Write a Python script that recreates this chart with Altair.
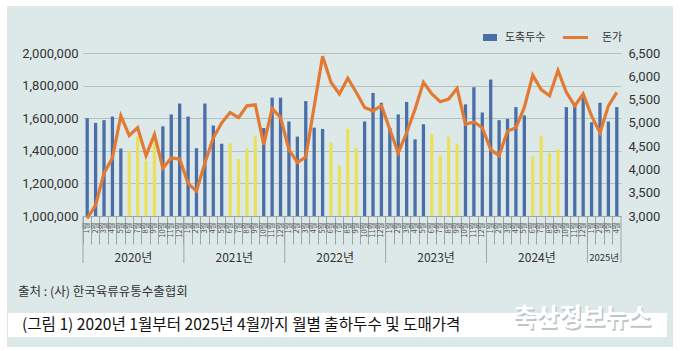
import altair as alt
import pandas as pd

# ---------------- data ----------------
years = ["2020", "2021", "2022", "2023", "2024", "2025"]

heads_2020 = [1600000, 1571000, 1588000, 1610000, 1414000, 1398000, 1489000, 1338000, 1468000, 1550000, 1623000, 1690000]
heads_2021 = [1610000, 1416000, 1690000, 1555000, 1443000, 1447000, 1350000, 1414000, 1493000, 1540000, 1726000, 1726000]
heads_2022 = [1580000, 1487000, 1705000, 1542000, 1534000, 1450000, 1310000, 1536000, 1420000, 1580000, 1755000, 1695000]
heads_2023 = [1540000, 1623000, 1700000, 1470000, 1563000, 1503000, 1370000, 1487000, 1443000, 1685000, 1790000, 1635000]
heads_2024 = [1837000, 1588000, 1596000, 1668000, 1617000, 1365000, 1493000, 1388000, 1410000, 1668000, 1685000, 1726000]
heads_2025 = [1575000, 1695000, 1580000, 1668000]

price_2020 = [2950, 3232, 3919, 4245, 5149, 4730, 4896, 4295, 4751, 4027, 4245, 4223]
price_2021 = [3702, 3535, 4136, 4679, 5000, 5221, 5113, 5366, 5388, 4534, 5308, 5113]
price_2022 = [4425, 4150, 4266, 5350, 6430, 5873, 5620, 5960, 5656, 5330, 5258, 5370]
price_2023 = [4860, 4353, 4787, 5294, 5873, 5620, 5453, 5511, 5742, 4968, 5019, 4896]
price_2024 = [4425, 4295, 4823, 4896, 5330, 6025, 5713, 5583, 6126, 5656, 5366, 5620]
price_2025 = [5149, 4787, 5366, 5656]

summer_months = [6, 7, 8, 9]

left_ticks = [1000000, 1200000, 1400000, 1600000, 1800000, 2000000]
right_ticks = [3000, 3500, 4000, 4500, 5000, 5500, 6000, 6500]

year_labels = ["2020년", "2021년", "2022년", "2023년", "2024년"]
year_centers = ["2020-07", "2021-07", "2022-07", "2023-07", "2024-07"]
year_starts = ["2020-01", "2021-01", "2022-01", "2023-01", "2024-01", "2025-01"]

source_text = "출처 : (사) 한국육류유통수출협회"
caption_text = "(그림 1) 2020년 1월부터 2025년 4월까지 월별 출하두수 및 도매가격"
watermark_text = "축산정보뉴스"

# ---------------- table ----------------
heads_all = [heads_2020, heads_2021, heads_2022, heads_2023, heads_2024, heads_2025]
price_all = [price_2020, price_2021, price_2022, price_2023, price_2024, price_2025]
rows = []
for y, hs, ps in zip(years, heads_all, price_all):
    for i, (h, p) in enumerate(zip(hs, ps)):
        m = i + 1
        rows.append({
            "key": f"{y}-{m:02d}",
            "mlabel": f"{m}월",
            "heads": h,
            "price": p,
            "grp": "summer" if m in summer_months else "normal",
        })
df = pd.DataFrame(rows)
order = list(df["key"])

W, H = 538, 163
BG = "#dde9e9"
GRID = "#b3c0c0"
TXT = "#333333"
BLUE = "#4a6ea8"
YELLOW = "#e9e15b"
ORANGE = "#e27a34"
KR = "Noto Sans CJK KR"
AXC = "#9aa7a7"

xscale = alt.Scale(type="band", domain=order, paddingInner=0, paddingOuter=0)

bars = alt.Chart(df).mark_bar(size=3.3).encode(
    x=alt.X("key:N", sort=order, scale=xscale,
            axis=alt.Axis(title=None, labels=False, ticks=True, tickSize=28,
                          tickColor=AXC, tickWidth=1, bandPosition=0,
                          domainColor=AXC, domainWidth=1)),
    y=alt.Y("heads:Q",
            scale=alt.Scale(domain=[1000000, 2000000], zero=False, nice=False),
            axis=alt.Axis(title=None, values=left_ticks, format=",d", grid=True,
                          gridColor=GRID, gridWidth=1.2, domain=False, ticks=False,
                          labelFont="Roboto", labelFontSize=13, labelColor=TXT,
                          labelPadding=5)),
    y2=alt.datum(1000000),
    color=alt.Color("grp:N", scale=alt.Scale(domain=["normal", "summer"],
                                             range=[BLUE, YELLOW]), legend=None),
)

line = alt.Chart(df).mark_line(color=ORANGE, strokeWidth=3.2).encode(
    x=alt.X("key:N", sort=order, scale=xscale),
    y=alt.Y("price:Q",
            scale=alt.Scale(domain=[3000, 6500], zero=False, nice=False),
            axis=alt.Axis(title=None, orient="right", values=right_ticks, format=",d",
                          grid=False, domain=False, ticks=False,
                          labelFont="Roboto", labelFontSize=13, labelColor=TXT,
                          labelPadding=7)),
)

month_text = alt.Chart(df).mark_text(angle=270, align="right", baseline="middle",
                                     font=KR, fontSize=7.5, color="#555555").encode(
    x=alt.X("key:N", sort=order, scale=xscale),
    y=alt.value(H + 6.5),
    text="mlabel:N",
)

ydf = pd.DataFrame({"key": year_starts})
year_rules = alt.Chart(ydf).mark_rule(color=AXC, strokeWidth=1).encode(
    x=alt.X("key:N", sort=order, scale=xscale, bandPosition=0),
    y=alt.value(H), y2=alt.value(H + 47),
)
end_rule = alt.Chart(pd.DataFrame({"key": [order[-1]]})).mark_rule(
    color=AXC, strokeWidth=1).encode(
    x=alt.X("key:N", sort=order, scale=xscale, bandPosition=1),
    y=alt.value(H), y2=alt.value(H + 47),
)

ltdf = pd.DataFrame({"key": year_centers, "label": year_labels})
year_text = alt.Chart(ltdf).mark_text(font=KR, fontSize=12, color=TXT,
                                      baseline="middle").encode(
    x=alt.X("key:N", sort=order, scale=xscale, bandPosition=0),
    y=alt.value(H + 42),
    text="label:N",
)
y25 = alt.Chart(pd.DataFrame({"key": ["2025-03"], "label": ["2025년"]})).mark_text(
    font=KR, fontSize=9.5, color=TXT, baseline="middle").encode(
    x=alt.X("key:N", sort=order, scale=xscale, bandPosition=0),
    y=alt.value(H + 42),
    text="label:N",
)

one = pd.DataFrame({"a": [0]})

# legend
leg_rect = alt.Chart(one).mark_rect(color=BLUE).encode(
    x=alt.value(400), x2=alt.value(414), y=alt.value(-19), y2=alt.value(-12))
leg_t1 = alt.Chart(one).mark_text(text="도축두수", font=KR, fontSize=11, color=TXT,
                                  align="left", baseline="middle").encode(
    x=alt.value(422), y=alt.value(-15.5))
leg_line = alt.Chart(one).mark_rule(color=ORANGE, strokeWidth=3).encode(
    x=alt.value(480), x2=alt.value(505), y=alt.value(-15.5))
leg_t2 = alt.Chart(one).mark_text(text="돈가", font=KR, fontSize=11, color=TXT,
                                  align="left", baseline="middle").encode(
    x=alt.value(519), y=alt.value(-15.5))

# frame, source, caption
frame = alt.Chart(one).mark_rect(fillOpacity=0, stroke="white", strokeWidth=14).encode(
    x=alt.value(-83), x2=alt.value(597), y=alt.value(-54), y2=alt.value(301))
src = alt.Chart(one).mark_text(text=source_text, font=KR, fontSize=12.5, color=TXT,
                               align="left", baseline="middle").encode(
    x=alt.value(-65), y=alt.value(239))
cap_box = alt.Chart(one).mark_rect(color="white").encode(
    x=alt.value(-75), x2=alt.value(584), y=alt.value(260), y2=alt.value(284))
cap = alt.Chart(one).mark_text(text=caption_text, font=KR, fontSize=15.6, color="#111111",
                               align="left", baseline="middle").encode(
    x=alt.value(-61), y=alt.value(272))
wm_shadow = alt.Chart(one).mark_text(text=watermark_text, font=KR, fontSize=25,
                                     fontWeight="bold", color="#bcc6c6",
                                     align="left", baseline="middle").encode(
    x=alt.value(431.5), y=alt.value(266.5))
wm = alt.Chart(one).mark_text(text=watermark_text, font=KR, fontSize=25,
                              fontWeight="bold", color="#ffffff",
                              align="left", baseline="middle").encode(
    x=alt.value(430), y=alt.value(265))

chart = alt.layer(
    bars, line, month_text, year_rules, end_rule, year_text, y25,
    leg_rect, leg_t1, leg_line, leg_t2,
    frame, src, cap_box, cap, wm_shadow, wm,
).resolve_scale(y="independent").properties(
    width=W, height=H,
    autosize=alt.AutoSizeParams(type="none"),
    padding={"left": 83, "top": 53, "right": 59, "bottom": 135},
    background=BG,
).configure_view(stroke=None)

chart.save("out.html", embed_options={"renderer": "svg", "actions": False})
